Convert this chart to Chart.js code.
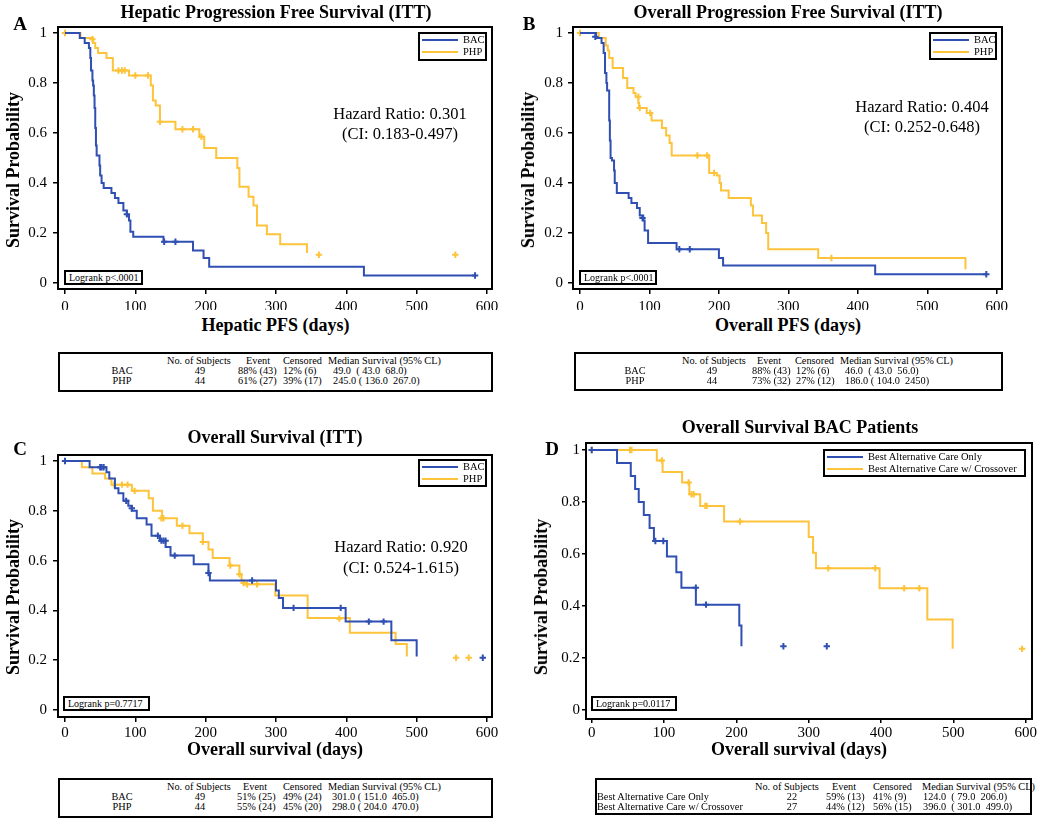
<!DOCTYPE html>
<html>
<head>
<meta charset="utf-8">
<title>Kaplan-Meier curves</title>
<script src="https://cdn.jsdelivr.net/npm/chart.js@4.4.1/dist/chart.umd.min.js"></script>
<style>
  html, body { margin: 0; padding: 0; background: #fff; }
  body { position: relative; width: 1050px; height: 825px; overflow: hidden;
         font-family: "Liberation Serif", "Times New Roman", serif; color: #000; }
  canvas { position: absolute; }
  .t { position: absolute; white-space: pre; line-height: 1; z-index: 3; }
  .bx { position: absolute; border: 2px solid #000; background: #fff; box-sizing: border-box; z-index: 2; }
  .ln { position: absolute; height: 2px; z-index: 3; }
</style>
</head>
<body>
<script>
const BLUE = '#2f4fb2';
const GOLD = '#fdc33a';

const xTicks = [0, 100, 200, 300, 400, 500, 600];
const yTicks = [0, 0.2, 0.4, 0.6, 0.8, 1];
const yTickLabels = ['0', '0.2', '0.4', '0.6', '0.8', '1'];

// [day, survival] at each step
const hepBac = [[0,1],[21,0.98],[28,0.96],[34,0.94],[36,0.90],[37,0.85],[39,0.81],[40,0.79],[41,0.75],[42,0.70],[43,0.62],[44,0.55],[45,0.51],[49,0.47],[50,0.43],[52,0.40],[55,0.38],[66,0.36],[71,0.34],[76,0.32],[83,0.29],[88,0.27],[91,0.25],[93,0.205],[97,0.185],[140,0.165],[182,0.13],[197,0.10],[205,0.065],[425,0.03],[583,0.03]];
const hepBacCens = [[88,0.275],[141,0.165],[157,0.165],[583,0.03]];
const hepPhp = [[0,1],[22,0.98],[40,0.96],[43,0.94],[47,0.92],[59,0.90],[68,0.85],[91,0.83],[122,0.79],[125,0.73],[129,0.71],[135,0.645],[157,0.615],[191,0.585],[198,0.54],[215,0.50],[245,0.46],[248,0.385],[261,0.345],[268,0.31],[273,0.23],[287,0.195],[306,0.155],[344,0.12]];
const hepPhpCens = [[0,1],[39,0.975],[76,0.85],[81,0.85],[85,0.85],[100,0.83],[118,0.83],[135,0.645],[167,0.615],[182,0.615],[194,0.585],[361,0.113],[555,0.113]];

const pfsBac = [[0,1],[23,0.98],[31,0.96],[34,0.92],[36,0.84],[38,0.80],[39,0.77],[42,0.65],[43,0.57],[44,0.50],[46,0.49],[49,0.45],[50,0.40],[53,0.36],[70,0.34],[74,0.32],[82,0.30],[86,0.27],[91,0.25],[93,0.21],[98,0.16],[139,0.135],[200,0.10],[206,0.07],[425,0.035],[585,0.035]];
const pfsBacCens = [[22,0.985],[90,0.26],[143,0.135],[158,0.135],[585,0.035]];
const pfsPhp = [[0,1],[27,0.98],[37,0.95],[40,0.93],[42,0.90],[47,0.86],[62,0.82],[68,0.78],[77,0.76],[80,0.745],[84,0.72],[85,0.70],[96,0.68],[103,0.65],[118,0.62],[124,0.59],[129,0.56],[132,0.51],[186,0.44],[197,0.43],[201,0.40],[203,0.37],[214,0.34],[246,0.31],[249,0.27],[262,0.24],[268,0.20],[271,0.135],[343,0.10],[555,0.055]];
const pfsPhpCens = [[0,1],[84,0.745],[86,0.70],[101,0.68],[169,0.51],[183,0.51],[193,0.44],[362,0.10]];

const osBac = [[0,1],[35,0.975],[59,0.955],[63,0.93],[71,0.89],[76,0.87],[83,0.84],[90,0.82],[95,0.80],[102,0.77],[116,0.745],[123,0.70],[135,0.68],[143,0.655],[150,0.62],[183,0.585],[204,0.55],[206,0.52],[300,0.48],[304,0.45],[310,0.41],[399,0.355],[464,0.28],[500,0.215]];
const osBacCens = [[0,1],[50,0.975],[52,0.975],[55,0.975],[87,0.84],[95,0.81],[132,0.70],[137,0.68],[140,0.68],[143,0.68],[156,0.62],[204,0.55],[266,0.52],[325,0.41],[392,0.41],[432,0.355],[453,0.355],[594,0.21]];
const osPhp = [[0,1],[24,0.975],[39,0.95],[57,0.93],[66,0.905],[95,0.88],[119,0.85],[125,0.80],[138,0.77],[159,0.74],[177,0.71],[196,0.675],[204,0.645],[210,0.61],[234,0.58],[248,0.545],[251,0.52],[254,0.505],[299,0.46],[345,0.37],[405,0.31],[470,0.265],[486,0.215]];
const osPhpCens = [[70,0.905],[81,0.905],[89,0.905],[99,0.88],[137,0.77],[140,0.77],[167,0.74],[196,0.675],[235,0.58],[248,0.545],[254,0.51],[259,0.505],[273,0.505],[390,0.367],[556,0.21],[574,0.21]];

const bacOnly = [[0,1],[35,0.95],[54,0.90],[60,0.85],[65,0.80],[72,0.75],[80,0.70],[86,0.65],[104,0.59],[117,0.53],[124,0.47],[144,0.405],[204,0.325],[207,0.245]];
const bacOnlyCens = [[0,1],[88,0.65],[99,0.65],[144,0.47],[158,0.405],[265,0.245],[325,0.245]];
const crossover = [[0,1],[90,0.96],[98,0.915],[125,0.875],[135,0.83],[150,0.785],[183,0.725],[300,0.665],[306,0.605],[310,0.545],[398,0.468],[464,0.348],[499,0.235]];
const crossoverCens = [[0,1],[53,1],[55,1],[97,0.96],[134,0.875],[138,0.83],[141,0.83],[157,0.785],[159,0.785],[205,0.725],[327,0.545],[392,0.545],[432,0.468],[453,0.468],[595,0.235]];

const ittNames = ['BAC', 'PHP'];
const bacNames = ['Best Alternative Care Only', 'Best Alternative Care w/ Crossover'];

const tableHead = ['No. of Subjects', 'Event', 'Censored', 'Median Survival (95% CL)'];
const hepRows = [['BAC', '49', '88% (43)', '12% (6)', '49.0  ( 43.0  68.0)'],
                 ['PHP', '44', '61% (27)', '39% (17)', '245.0 ( 136.0  267.0)']];
const pfsRows = [['BAC', '49', '88% (43)', '12% (6)', '46.0  ( 43.0  56.0)'],
                 ['PHP', '44', '73% (32)', '27% (12)', '186.0 ( 104.0  2450)']];
const osRows = [['BAC', '49', '51% (25)', '49% (24)', '301.0 ( 151.0  465.0)'],
                ['PHP', '44', '55% (24)', '45% (20)', '298.0 ( 204.0  470.0)']];
const bacRows = [['Best Alternative Care Only', '22', '59% (13)', '41% (9)', '124.0  ( 79.0  206.0)'],
                 ['Best Alternative Care w/ Crossover', '27', '44% (12)', '56% (15)', '396.0  ( 301.0  499.0)']];

Chart.defaults.font.family = '"Liberation Serif", "Times New Roman", serif';
Chart.defaults.color = '#000';

const xy = pts => pts.map(p => ({ x: p[0], y: p[1] }));

const plotBox = {
  id: 'plotBox',
  afterDraw(chart) {
    const a = chart.chartArea, ctx = chart.ctx;
    ctx.save();
    ctx.strokeStyle = '#000';
    ctx.lineWidth = 2;
    ctx.strokeRect(a.left, a.top, a.right - a.left, a.bottom - a.top);
    ctx.restore();
  }
};

function drawPanel(p) {
  const [cx, cy, cw, ch] = p.canvas;
  const [bl, bt, br, bb] = p.box;
  const cv = document.createElement('canvas');
  cv.width = cw;
  cv.height = ch;
  Object.assign(cv.style, { left: cx + 'px', top: cy + 'px', width: cw + 'px', height: ch + 'px' });
  document.body.appendChild(cv);

  const datasets = [];
  p.series.forEach(([curve, cens, col]) => {
    datasets.push({ data: xy(curve), stepped: true, borderColor: col, borderWidth: 2,
                    pointRadius: 0, fill: false });
    datasets.push({ data: xy(cens), showLine: false, pointStyle: 'cross', pointRadius: 3.2,
                    pointBorderWidth: 2, pointBorderColor: col, borderColor: col });
  });

  const grid = { display: true, drawOnChartArea: false, drawTicks: true,
                 tickLength: p.tick, color: '#000', lineWidth: 1.5 };
  new Chart(cv, {
    type: 'line',
    data: { datasets },
    options: {
      responsive: false,
      animation: false,
      events: [],
      layout: { padding: { left: 0, top: bt - cy, right: cx + cw - br, bottom: 0 } },
      plugins: { legend: { display: false }, tooltip: { enabled: false } },
      scales: {
        x: {
          type: 'linear', min: p.x[0], max: p.x[1], grid, border: { display: false },
          afterBuildTicks: s => { s.ticks = xTicks.map(v => ({ value: v })); },
          afterFit: s => { s.height = cy + ch - bb; },
          ticks: { padding: p.xPad, autoSkip: false, maxRotation: 0,
                   font: { size: 15, lineHeight: 1.2 }, callback: v => String(v) }
        },
        y: {
          type: 'linear', min: p.y[0], max: p.y[1], grid, border: { display: false },
          afterBuildTicks: s => { s.ticks = yTicks.map(v => ({ value: v })); },
          afterFit: s => { s.width = bl - cx; },
          ticks: { padding: p.yPad, autoSkip: false,
                   font: { size: 15, lineHeight: 1.2 }, callback: (v, i) => yTickLabels[i] }
        }
      }
    },
    plugins: [plotBox]
  });
}

function text(str, x, y, size, opts = {}) {
  const d = document.createElement('div');
  d.className = 't';
  d.textContent = str;
  d.style.fontSize = size + 'px';
  if (opts.bold) d.style.fontWeight = 'bold';
  d.style.left = x + 'px';
  d.style.top = y + 'px';
  const tx = opts.align === 'left' ? '0' : '-50%';
  d.style.transform = 'translate(' + tx + ',-50%)' + (opts.rotate ? ' rotate(-90deg)' : '');
  document.body.appendChild(d);
}

function box(l, t, r, b) {
  const d = document.createElement('div');
  d.className = 'bx';
  Object.assign(d.style, { left: l + 'px', top: t + 'px', width: (r - l) + 'px', height: (b - t) + 'px' });
  document.body.appendChild(d);
}

function legend(rect, names) {
  box(...rect);
  names.forEach((n, i) => {
    const y = rect[1] + 8 + 12 * i;
    const l = document.createElement('div');
    l.className = 'ln';
    Object.assign(l.style, { left: (rect[0] + 4) + 'px', top: (y - 1) + 'px', width: '36px',
                             background: i === 0 ? BLUE : GOLD });
    document.body.appendChild(l);
    text(n, rect[0] + 45, y, 10.5, { align: 'left' });
  });
}

function table(t, rows) {
  box(...t.box);
  tableHead.forEach((h, i) => text(h, t.head[i], t.rowY[0], 10.3, { align: 'left' }));
  rows.forEach((r, ri) => r.forEach((c, ci) =>
    text(c, t.cols[ci], t.rowY[ri + 1], 10.3, { align: t.align[ci] })));
}

function logrank(rect, str) {
  box(...rect);
  text(str, rect[0] + 5, (rect[1] + rect[3]) / 2, 10, { align: 'left' });
}

const panels = [
  { canvas: [0, 10, 520, 300], box: [58, 27, 492, 289], x: [-9.95, 607.1], y: [-0.024, 1.024],
    tick: 5, xPad: 4, yPad: 6,
    series: [[hepBac, hepBacCens, BLUE], [hepPhp, hepPhpCens, GOLD]] },
  { canvas: [517, 10, 533, 300], box: [573, 27, 1002, 289], x: [-10.1, 607.6], y: [-0.024, 1.024],
    tick: 5, xPad: 4, yPad: 5,
    series: [[pfsBac, pfsBacCens, BLUE], [pfsPhp, pfsPhpCens, GOLD]] },
  { canvas: [0, 440, 520, 300], box: [58, 454, 492, 717], x: [-9.95, 607.1], y: [-0.028, 1.024],
    tick: 5, xPad: 2, yPad: 6,
    series: [[osBac, osBacCens, BLUE], [osPhp, osPhpCens, GOLD]] },
  { canvas: [530, 430, 520, 320], box: [586, 443, 1032, 719], x: [-7.9, 608.7], y: [-0.035, 1.027],
    tick: 4, xPad: 1, yPad: 2,
    series: [[bacOnly, bacOnlyCens, BLUE], [crossover, crossoverCens, GOLD]] }
];
panels.forEach(drawPanel);

// panel titles and letters
text('Hepatic Progression Free Survival (ITT)', 276, 12, 18, { bold: true });
text('Overall Progression Free Survival (ITT)', 788, 12, 18, { bold: true });
text('Overall Survival (ITT)', 275, 437, 18, { bold: true });
text('Overall Survival BAC Patients', 800, 427, 18, { bold: true });
text('A', 20, 23, 19, { bold: true });
text('B', 529, 23, 19, { bold: true });
text('C', 20, 448, 19, { bold: true });
text('D', 552, 448, 19, { bold: true });

// axis titles
text('Survival Probability', 12.5, 170, 18, { bold: true, rotate: true });
text('Survival Probability', 528, 170, 18, { bold: true, rotate: true });
text('Survival Probability', 12.5, 597, 18, { bold: true, rotate: true });
text('Survival Probability', 540.5, 597, 18, { bold: true, rotate: true });
text('Hepatic PFS (days)', 275.5, 325, 18, { bold: true });
text('Overall PFS (days)', 788, 325, 18, { bold: true });
text('Overall survival (days)', 275, 749, 18, { bold: true });
text('Overall survival (days)', 799, 749, 18, { bold: true });

// hazard ratios
text('Hazard Ratio: 0.301', 400, 114, 16.5);
text('(CI: 0.183-0.497)', 400, 134, 16.5);
text('Hazard Ratio: 0.404', 922, 107, 16.5);
text('(CI: 0.252-0.648)', 922, 127, 16.5);
text('Hazard Ratio: 0.920', 401, 547, 16.5);
text('(CI: 0.524-1.615)', 401, 568, 16.5);

// legends
legend([418, 32, 487, 61], ittNames);
legend([929, 32, 997, 60], ittNames);
legend([418, 459, 487, 487], ittNames);
legend([823, 449, 1026, 477], bacNames);

// logrank boxes
logrank([64, 270, 143, 285], 'Logrank p<.0001');
logrank([579, 270, 657, 285], 'Logrank p<.0001');
logrank([63, 696, 150, 711], 'Logrank p=0.7717');
logrank([591, 696, 677, 711], 'Logrank p=0.0117');

// summary tables
const ittAlign = ['center', 'center', 'left', 'left', 'left'];
table({ box: [58, 352, 493, 392], rowY: [361, 371, 381], head: [167, 246, 283, 328],
        cols: [122, 200, 238, 283, 333], align: ittAlign }, hepRows);
table({ box: [574, 352, 1003, 391], rowY: [361, 371, 381], head: [682, 757, 795, 840],
        cols: [635, 712, 752, 796, 845], align: ittAlign }, pfsRows);
table({ box: [58, 778, 493, 818], rowY: [787, 797, 807], head: [167, 243, 283, 328],
        cols: [122, 200, 237, 283, 332], align: ittAlign }, osRows);
table({ box: [595, 778, 1032, 815], rowY: [787, 797, 807], head: [755, 832, 873, 922],
        cols: [597, 792, 826, 873, 923], align: ['left', 'center', 'left', 'left', 'left'] }, bacRows);
</script>
</body>
</html>
